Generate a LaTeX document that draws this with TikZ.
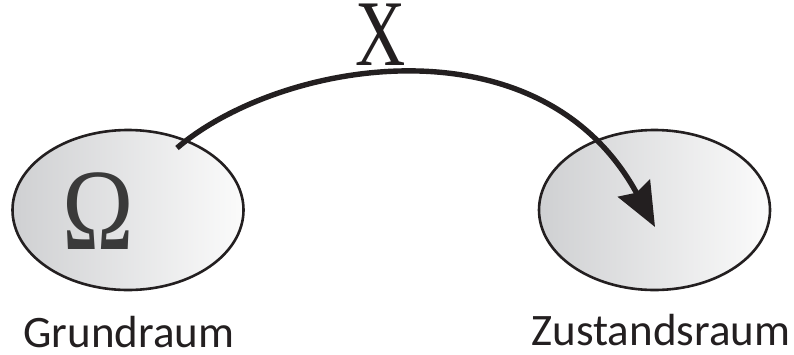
\documentclass[tikz,border=0pt]{standalone}
\usepackage{fontspec}
\setmainfont{Carlito}
\newfontfamily\serifgr{Liberation Serif}
\usetikzlibrary{arrows.meta,shapes.geometric}
\definecolor{inkc}{HTML}{231F20}
\definecolor{shadeL}{HTML}{CFD0D2}
\definecolor{shadeR}{HTML}{FBFBFB}
\definecolor{omegac}{HTML}{3A3A3A}
\begin{document}
\begin{tikzpicture}[x=1pt,y=-1pt,
  space/.style={ellipse, draw=inkc, line width=2.6pt, left color=shadeL, right color=shadeR,
    minimum width=231pt, minimum height=160pt, inner sep=0pt},
  caption/.style={anchor=base, text=inkc, inner sep=0pt, text height=30pt, text depth=0pt,
    font=\fontsize{45}{45}\selectfont},
  mapline/.style={line width=5.4pt, draw=inkc, -{Stealth[length=44pt, width=36pt, inset=5pt]}}
]
\useasboundingbox (0,0) rectangle (794,354);
\node[space] (G) at (128,210) {};
\node[space] (Z) at (654.5,210) {};
\node[text=omegac, font=\serifgr\fontsize{116}{116}\selectfont] (om) at (98,211) {\scalebox{0.83}[1]{Ω}};
\node[text=inkc, anchor=base, inner sep=0pt, text height=55pt, text depth=0pt,
  font=\serifgr\fontsize{94}{94}\selectfont] (X) at (381,65) {\scalebox{0.74}[1]{X}};
\node[caption] (gl) at (129,347) {Grundraum};
\node[caption] (zl) at (661,345) {Zustandsraum};
\coordinate (s) at (177,148);
\coordinate (t) at (655,227);
\draw[mapline] (s) .. controls (280,60) and (540,15) .. (t);
\end{tikzpicture}
\end{document}
